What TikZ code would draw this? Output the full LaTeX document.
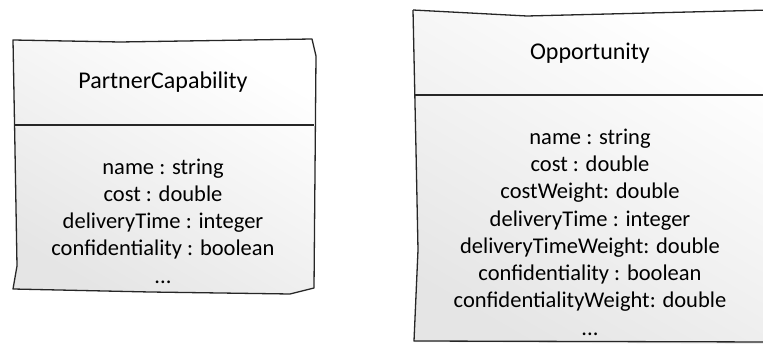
\documentclass[tikz,border=0pt]{standalone}
\usepackage{fontspec}
\setmainfont{Carlito}
\begin{document}
\begin{tikzpicture}[x=1pt,y=-1pt,
  boxline/.style={draw=black!85,line width=1.3pt,line join=round},
  boxfill/.style={top color=white,bottom color=black!10,shading angle=-30},
  title/.style={font=\fontsize{24}{27}\selectfont,anchor=center},
  attrs/.style={font=\fontsize{22.5}{27.3}\selectfont,align=center,anchor=center,inner sep=0pt}]
\useasboundingbox (0,0) rectangle (763,344);
% left box
\path[boxfill] (13,40) -- (312,39) -- (316,56) -- (314,288) -- (290,294) -- (13,289) -- (17,266) -- cycle;
\draw[boxline] (13,40) -- (120,42) -- (312,39) -- (316,56) -- (314,288) -- (290,294) -- (150,292) -- (13,289) -- (17,266) -- (15,150) -- cycle;
\draw[boxline] (14,125) -- (314,125);
\node[title] (pc) at (163,82) {PartnerCapability};
\node[attrs] (pca) at (163,221) {name : string\\cost : double\\deliveryTime : integer\\confidentiality : boolean\\...};
% right box
\path[boxfill] (413,10) -- (527,16) -- (770,10) -- (770,344) -- (414,342) -- (418,250) -- cycle;
\draw[boxline] (413,10) -- (527,16) -- (770,10);
\draw[boxline] (413,10) -- (416,150) -- (418,250) -- (414,341) -- (770,342);
\draw[boxline] (414,95) -- (770,95);
\node[title] (op) at (590,53) {Opportunity};
\node[attrs] (opa) at (590,232) {name : string\\cost : double\\costWeight: double\\deliveryTime : integer\\deliveryTimeWeight: double\\confidentiality : boolean\\confidentialityWeight: double\\...};
\end{tikzpicture}
\end{document}
